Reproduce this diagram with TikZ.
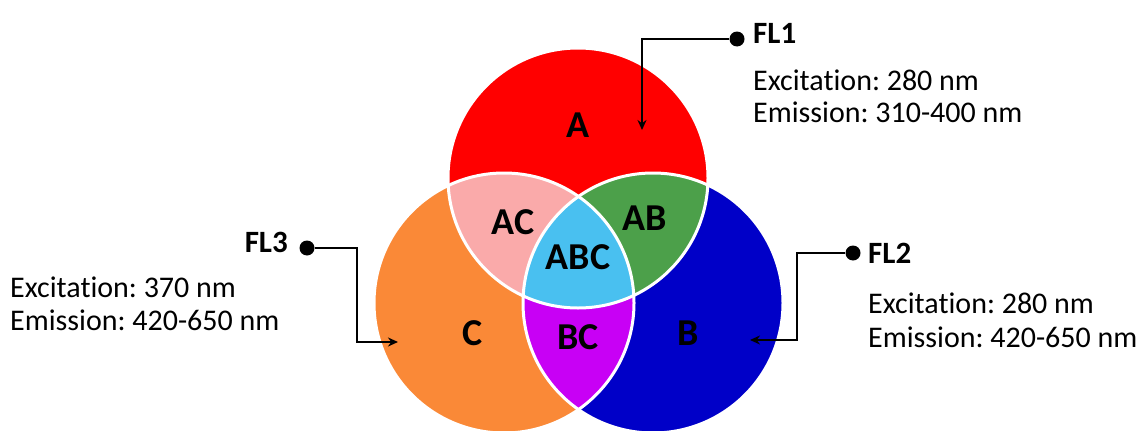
\documentclass[tikz,border=0pt]{standalone}
\usepackage{fontspec}
\setmainfont{Carlito}[Ligatures=NoCommon]
\frenchspacing
\usetikzlibrary{arrows.meta}

\definecolor{colA}{RGB}{255,0,0}
\definecolor{colB}{RGB}{0,0,200}
\definecolor{colC}{RGB}{250,137,55}
\definecolor{colAB}{RGB}{76,160,74}
\definecolor{colAC}{RGB}{250,170,170}
\definecolor{colBC}{RGB}{200,0,245}
\definecolor{colABC}{RGB}{73,192,240}

\tikzset{
  region/.style={font=\fontsize{38}{38}\selectfont\bfseries, inner sep=0},
  flname/.style={font=\fontsize{31}{31}\selectfont\bfseries, inner sep=0, anchor=base west},
  fltext/.style={font=\fontsize{30}{30}\selectfont, inner sep=0, anchor=base west},
  dot/.style={circle, fill=black, minimum size=15pt, inner sep=0},
  pointer/.style={line width=2.7pt, -{Stealth[length=10pt,width=9pt]}},
  border/.style={white, line width=3pt},
}

\begin{document}
\begin{tikzpicture}[x=1pt,y=-1pt]
\useasboundingbox (0,0) rectangle (1146,431);
\coordinate (cA) at (578,178);
\coordinate (cB) at (653,303);
\coordinate (cC) at (504,303);

\fill[colA] (cA) circle (130pt);
\fill[colC] (cC) circle (130pt);
\fill[colB] (cB) circle (130pt);
\begin{scope}
  \clip (cA) circle (130pt);
  \fill[colAC] (cC) circle (130pt);
  \fill[colAB] (cB) circle (130pt);
\end{scope}
\begin{scope}
  \clip (cB) circle (130pt);
  \fill[colBC] (cC) circle (130pt);
\end{scope}
\begin{scope}
  \clip (cA) circle (130pt);
  \clip (cB) circle (130pt);
  \fill[colABC] (cC) circle (130pt);
\end{scope}
\draw[border] (cA) circle (130pt);
\draw[border] (cB) circle (130pt);
\draw[border] (cC) circle (130pt);

\node[region] (a) at (578,125) {A};
\node[region] (ac) at (513,222) {AC};
\node[region] (ab) at (645,218) {AB};
\node[region] (abc) at (578,257) {ABC};
\node[region] (c) at (473,333) {C};
\node[region] (bc) at (578,337) {BC};
\node[region] (b) at (688,333) {B};

\node[dot] (d1) at (737,39) {};
\node[flname] (fl1) at (753,43) {FL1};
\node[fltext] (fl1exc) at (753,90) {Excitation: 280 nm};
\node[fltext] (fl1emi) at (753,122) {Emission: 310-400 nm};
\coordinate (k1) at (642,39);
\coordinate (t1) at (642,130);
\draw[pointer] (d1) -- (k1) -- (t1);

\node[dot] (d2) at (853,253) {};
\node[flname] (fl2) at (868,263) {FL2};
\node[fltext] (fl2exc) at (868,313) {Excitation: 280 nm};
\node[fltext] (fl2emi) at (868,347) {Emission: 420-650 nm};
\coordinate (k2a) at (797,253);
\coordinate (k2b) at (797,340);
\coordinate (t2) at (750,340);
\draw[pointer] (d2) -- (k2a) -- (k2b) -- (t2);

\node[dot] (d3) at (307,248) {};
\node[flname, anchor=base east] (fl3) at (288,252) {FL3};
\node[fltext] (fl3exc) at (10,297) {Excitation: 370 nm};
\node[fltext] (fl3emi) at (10,330) {Emission: 420-650 nm};
\coordinate (k3a) at (357,248);
\coordinate (k3b) at (357,342);
\coordinate (t3) at (398,342);
\draw[pointer] (d3) -- (k3a) -- (k3b) -- (t3);
\end{tikzpicture}
\end{document}
